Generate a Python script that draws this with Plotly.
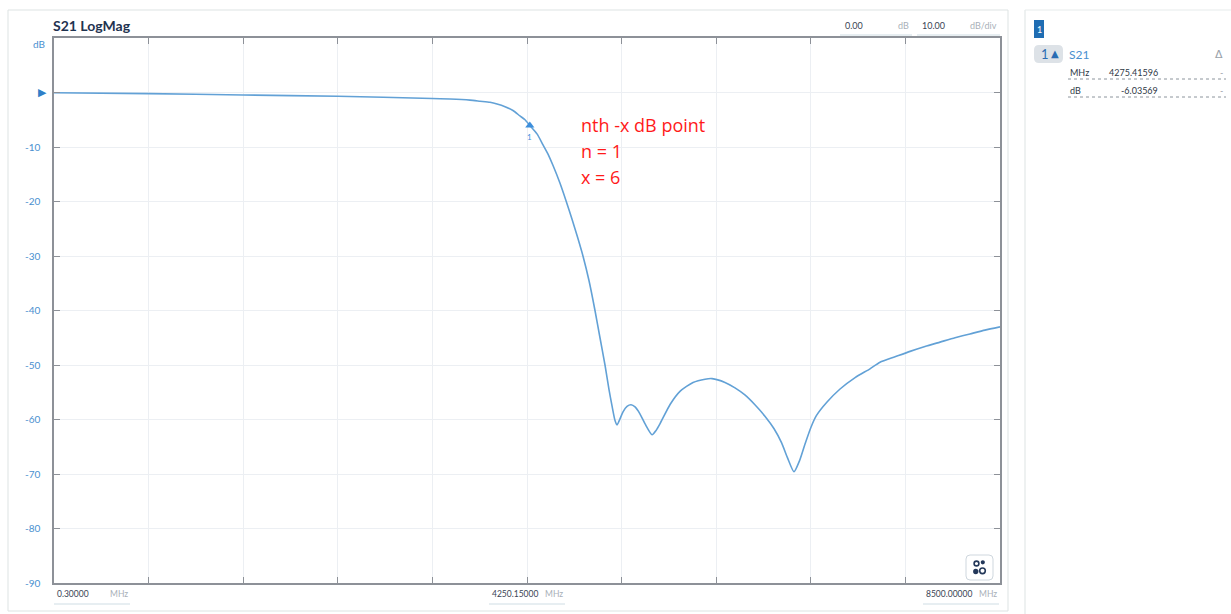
import plotly.graph_objects as go

# ---- S21 transmission trace (MHz, dB) ----
freq_mhz = [
    0.3, 845, 1698, 2552, 3397, 3558, 3738, 3828, 3918, 3981, 4053, 4124,
    4187, 4232, 4275.4, 4340, 4394, 4439, 4484, 4546, 4600, 4654, 4708, 4753,
    4807, 4861, 4906, 4951, 4987, 5014, 5041, 5059, 5077, 5113, 5149, 5185,
    5221, 5266, 5311, 5374, 5410, 5447, 5537, 5627, 5742, 5850, 5913, 6029,
    6119, 6208, 6298, 6388, 6470, 6538, 6590, 6649, 6700, 6748, 6800, 6850,
    6946, 7063, 7198, 7332, 7422, 7557, 7692, 7826, 7961, 8096, 8230, 8365,
    8500,
]
s21_db = [
    -0.05, -0.2, -0.45, -0.7, -1.1, -1.2, -1.4, -1.6, -1.8, -2.1, -2.6, -3.3,
    -4.3, -5.0, -6.04, -7.6, -9.6, -11.3, -13.4, -16.6, -19.8, -23.2, -26.8, -30.0,
    -34.5, -40.0, -45.0, -50.0, -54.5, -57.5, -60.2, -61.0, -60.3, -58.6, -57.6, -57.3,
    -57.7, -59.0, -60.8, -62.8, -62.0, -60.7, -57.2, -54.8, -53.2, -52.6, -52.5, -53.2,
    -54.2, -55.5, -57.3, -59.4, -61.7, -64.3, -67.0, -69.6, -67.5, -64.5, -61.5, -59.3,
    -56.8, -54.4, -52.3, -50.7, -49.5, -48.5, -47.5, -46.6, -45.8, -45.0, -44.3, -43.6,
    -43.0,
]

# marker 1 : nth -x dB point
marker_freq = 4275.41596
marker_db = -6.03569

# axis settings
y_ticks = [-90, -80, -70, -60, -50, -40, -30, -20, -10, 0]
y_tick_text = ["-90", "-80", "-70", "-60", "-50", "-40", "-30", "-20", "-10", ""]
x_start, x_center, x_stop = 0.30000, 4250.15000, 8500.00000
x_grid = [x_start + i * (x_stop - x_start) / 10 for i in range(11)]
ref_level, scale_div = 0.00, 10.00

W, H = 1231, 614
L, R, T, B = 54, 231, 38, 31
PW, PH = W - L - R, H - T - B


def px(x):
    return (x - L) / PW


def py(y):
    return (H - B - y) / PH


def rounded(x0, x1, y0, y1, r):
    return (f"M {px(x0 + r)},{py(y0)} L {px(x1 - r)},{py(y0)} Q {px(x1)},{py(y0)} {px(x1)},{py(y0 + r)} "
            f"L {px(x1)},{py(y1 - r)} Q {px(x1)},{py(y1)} {px(x1 - r)},{py(y1)} "
            f"L {px(x0 + r)},{py(y1)} Q {px(x0)},{py(y1)} {px(x0)},{py(y1 - r)} "
            f"L {px(x0)},{py(y0 + r)} Q {px(x0)},{py(y0)} {px(x0 + r)},{py(y0)} Z")


BLUE = "#4a8fcf"
TRACE = "#62a1d6"
GREY_TXT = "#a8b0b8"
FONT = "Lato"

fig = go.Figure()
fig.add_trace(go.Scatter(
    x=freq_mhz, y=s21_db, mode="lines", line=dict(color=TRACE, width=1.6, shape="spline", smoothing=0.6),
    hoverinfo="skip", showlegend=False,
))
fig.add_trace(go.Scatter(
    x=[marker_freq], y=[marker_db], mode="markers",
    marker=dict(symbol="triangle-up", size=8, color="#3d8fdc"),
    showlegend=False, hoverinfo="skip",
))

shapes = []
ann = []

# marker number below the triangle
ann.append(dict(text="1", x=marker_freq, y=marker_db, xref="x", yref="y", yshift=-12,
                xanchor="center", yanchor="middle", font=dict(size=8, color="#3d8fdc", family=FONT)))

# cards
shapes.append(dict(type="rect", xref="paper", yref="paper", x0=px(8), x1=px(1008), y0=py(611), y1=py(10),
                   line=dict(color="#dde3e3", width=1), layer="below"))
shapes.append(dict(type="line", xref="paper", yref="paper", x0=px(1025), x1=px(1025), y0=py(614), y1=py(10),
                   line=dict(color="#dde3e3", width=1)))
shapes.append(dict(type="line", xref="paper", yref="paper", x0=px(1025), x1=px(1231), y0=py(10), y1=py(10),
                   line=dict(color="#e6ebeb", width=1)))

# title
ann.append(dict(text="<b>S21 LogMag</b>", x=px(51), y=py(25), xanchor="left", yanchor="middle",
                font=dict(size=14, color="#1f3350", family=FONT)))
ann.append(dict(text="dB", x=px(47), y=py(44), xanchor="right", yanchor="middle",
                font=dict(size=10, color=BLUE, family=FONT)))
ann.append(dict(text="▶", x=px(49), y=ref_level, xref="paper", yref="y", xanchor="right", yanchor="middle",
                font=dict(size=11, color="#2f7fc8", family="DejaVu Sans")))

# reference / scale boxes
for label, unit, xl, xu, xr in [(f"{ref_level:.2f}", "dB", 843, 911, 912),
                                (f"{scale_div:.2f}", "dB/div", 920, 999, 1000)]:
    ann.append(dict(text=label, x=px(xl), y=py(25), xanchor="left", yanchor="middle",
                    font=dict(size=9, color="#3a4454", family=FONT)))
    ann.append(dict(text=unit, x=px(xu), y=py(25), xanchor="right", yanchor="middle",
                    font=dict(size=9, color=GREY_TXT, family=FONT)))
    shapes.append(dict(type="line", xref="paper", yref="paper", x0=px(xl - 3), x1=px(xr), y0=py(35), y1=py(35),
                       line=dict(color="#cfdde4", width=1)))

# frequency labels below the grid
for val, xl in [(x_start, 55), (x_center, 490), (x_stop, 924)]:
    ann.append(dict(text=f"{val:.5f}", x=px(xl), y=py(594), xanchor="left", yanchor="middle",
                    font=dict(size=8.5, color="#3a4454", family=FONT)))
    ann.append(dict(text="MHz", x=px(xl + 75), y=py(594), xanchor="right", yanchor="middle",
                    font=dict(size=8.5, color=GREY_TXT, family=FONT)))
    shapes.append(dict(type="line", xref="paper", yref="paper", x0=px(xl - 1), x1=px(xl + 75), y0=py(604), y1=py(604),
                       line=dict(color="#cfdde4", width=1)))

# annotation text
for i, line in enumerate(["nth -x dB point", "n = 1", "x = 6"]):
    ann.append(dict(text=line, x=px(579), y=py(125 + 26 * i), xanchor="left", yanchor="middle",
                    font=dict(size=18, color="#ff1a1a", family="Open Sans")))

# layout button (bottom right of grid)
shapes.append(dict(type="path", xref="paper", yref="paper", path=rounded(966, 993, 555, 580, 4),
                   fillcolor="white", line=dict(color="#cfd7de", width=1)))
for cx, cy, rr, filled in [(976.5, 563.5, 2.4, False), (982.8, 562.3, 1.3, True),
                           (975.8, 571.5, 1.9, True), (982.5, 570.8, 2.8, False)]:
    shapes.append(dict(type="circle", xref="paper", yref="paper",
                       x0=px(cx - rr), x1=px(cx + rr), y0=py(cy + rr), y1=py(cy - rr),
                       fillcolor="#24385a" if filled else "rgba(0,0,0,0)",
                       line=dict(color="#24385a", width=1.6)))

# ---- marker table panel ----
shapes.append(dict(type="rect", xref="paper", yref="paper", x0=px(1034), x1=px(1044), y0=py(38), y1=py(20),
                   fillcolor="#1f6db3", line=dict(width=0)))
ann.append(dict(text="1", x=px(1039), y=py(29), xanchor="center", yanchor="middle",
                font=dict(size=9, color="white", family=FONT)))
shapes.append(dict(type="path", xref="paper", yref="paper", path=rounded(1034, 1063, 45, 63, 5),
                   fillcolor="#dde2e7", line=dict(width=0)))
ann.append(dict(text="1", x=px(1045), y=py(54.5), xanchor="center", yanchor="middle",
                font=dict(size=13, color="#2a6cb3", family=FONT)))
ann.append(dict(text="▲", x=px(1055), y=py(53.5), xanchor="center", yanchor="middle",
                font=dict(size=10, color="#2a6cb3", family="DejaVu Sans")))
ann.append(dict(text="S21", x=px(1067), y=py(54), xanchor="left", yanchor="middle",
                font=dict(size=12, color=BLUE, family=FONT)))
ann.append(dict(text="Δ", x=px(1225), y=py(54), xanchor="right", yanchor="middle",
                font=dict(size=11, color="#9aa2aa", family="DejaVu Sans")))
for row_y, unit, val in [(72, "MHz", f"{marker_freq:.5f}"), (90, "dB", f"{marker_db:.5f}")]:
    ann.append(dict(text=unit, x=px(1068), y=py(row_y), xanchor="left", yanchor="middle",
                    font=dict(size=9, color="#2e3846", family=FONT)))
    ann.append(dict(text=val, x=px(1160), y=py(row_y), xanchor="right", yanchor="middle",
                    font=dict(size=9, color="#2e3846", family=FONT)))
    ann.append(dict(text="-", x=px(1225), y=py(row_y), xanchor="right", yanchor="middle",
                    font=dict(size=9, color="#9aa2aa", family=FONT)))
    shapes.append(dict(type="line", xref="paper", yref="paper", x0=px(1068), x1=px(1226), y0=py(row_y + 7),
                       y1=py(row_y + 7), line=dict(color="#8c949c", width=1, dash="dot")))

for a in ann:
    a.setdefault("xref", "paper")
    a.setdefault("yref", "paper")
    a["showarrow"] = False

fig.update_layout(
    width=W, height=H, margin=dict(l=L, r=R, t=T, b=B),
    paper_bgcolor="white", plot_bgcolor="white",
    shapes=shapes, annotations=ann,
    xaxis=dict(range=[x_start, x_stop], tickvals=x_grid, showticklabels=False,
               showgrid=True, gridcolor="#eceff3", gridwidth=1, zeroline=False,
               showline=True, linecolor="#8d9198", linewidth=1.5, mirror="ticks",
               ticks="inside", ticklen=6, tickcolor="#8d9198", tickwidth=1.2),
    yaxis=dict(range=[-90, 10], tickvals=y_ticks, ticktext=y_tick_text,
               showgrid=True, gridcolor="#eceff3", gridwidth=1, zeroline=False,
               showline=True, linecolor="#8d9198", linewidth=1.5, mirror="ticks",
               ticks="inside", ticklen=6, tickcolor="#8d9198", tickwidth=1.2,
               ticklabelstandoff=10,
               tickfont=dict(size=10, color=BLUE, family=FONT)),
    font=dict(family=FONT),
)

fig.write_html("out.html", config={"displayModeBar": False})
